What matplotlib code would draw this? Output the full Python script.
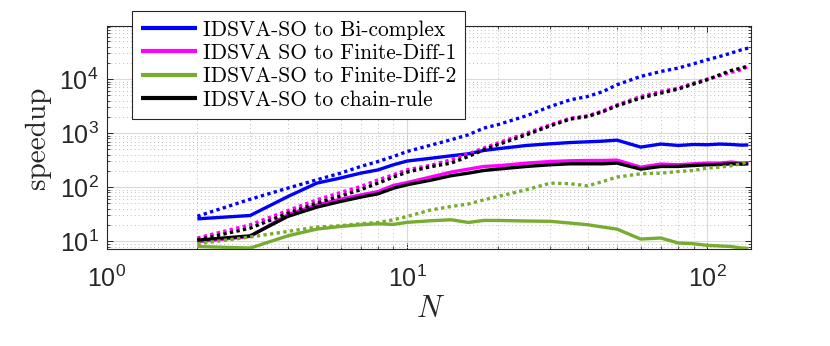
import matplotlib
matplotlib.use('Agg')
import matplotlib.pyplot as plt
from matplotlib.ticker import LogLocator, NullFormatter

plt.rcParams['font.family'] = ['Liberation Sans', 'DejaVu Sans']
plt.rcParams['mathtext.fontset'] = 'custom'
plt.rcParams['mathtext.rm'] = 'Liberation Sans'
plt.rcParams['mathtext.it'] = 'Liberation Sans:italic'
plt.rcParams['mathtext.bf'] = 'Liberation Sans:bold'

# ---------------- data ----------------
N = [2, 3, 4, 5, 6, 7, 8, 9, 10, 12, 14, 16, 18, 20, 25, 30, 35, 40, 45, 50,
     60, 70, 80, 90, 100, 110, 120, 130, 137]

bicomplex_solid = [26, 30, 67, 119, 148, 182, 209, 260, 305, 343, 381, 415, 478, 514,
                   592, 635, 671, 691, 712, 742, 552, 628, 592, 617, 610, 628, 617, 600, 605]
fd1_solid = [9.8, 12.3, 31, 47, 60, 72, 83, 108, 122, 155, 190, 216, 242, 249,
             279, 299, 308, 312, 312, 317, 235, 268, 260, 271, 279, 279, 292, 279, 285]
fd2_solid = [8.0, 7.5, 12.6, 16.8, 18.8, 20.2, 21.1, 20.5, 22.4, 24, 25, 22.3, 24.3, 24.3,
             23.7, 23.4, 21.7, 20.2, 18.3, 16.8, 11, 11.5, 9.3, 9.0, 8.4, 8.2, 8.0, 7.5, 7.4]
chain_solid = [10.5, 12.6, 28.8, 42.8, 54.5, 65.6, 75.5, 96, 111, 135, 163, 182, 204, 216,
               242, 260, 271, 271, 271, 279, 216, 242, 242, 252, 260, 263, 271, 267, 270]

bicomplex_dot = [29, 60, 96, 137, 182, 242, 299, 370, 458, 600, 754, 933, 1240, 1428,
                 2096, 3113, 4140, 4765, 5900, 7840, 11170, 13810, 15960, 19180, 22750,
                 26200, 30200, 34800, 37400]
fd1_dot = [11.5, 20.2, 37, 58.5, 80, 103, 137, 170, 210, 255, 321, 415, 530, 655,
           1003, 1428, 1897, 2096, 2590, 3340, 4765, 5900, 6800, 8430, 10000, 11500,
           13250, 14850, 17100]
fd2_dot = [9.0, 12, 15.2, 18.3, 19.4, 21.1, 22.3, 25, 28.8, 38, 44, 49, 58.5, 67,
           90, 119, 116, 106, 128, 154, 177, 182, 195, 204, 226, 235, 249, 271, 299]
chain_dot = [10.6, 17.5, 33, 50.8, 69, 90, 119, 154, 190, 240, 279, 370, 492, 609,
             933, 1369, 1820, 2030, 2510, 3200, 4450, 5500, 6530, 8070, 9710, 12000,
             14400, 15970, 17600]

labels = ['IDSVA-SO to Bi-complex', 'IDSVA SO to Finite-Diff-1',
          'IDSVA-SO to Finite-Diff-2', 'IDSVA-SO to chain-rule']
colors = ['#0000ff', '#ff00ff', '#77ac30', '#000000']

# ---------------- figure ----------------
fig = plt.figure(figsize=(8.30, 3.46), dpi=100)
ax = fig.add_axes([107 / 830, 1 - 249 / 346, (750.7 - 107) / 830, (249 - 25.7) / 346])

lw = 2.4
solids = [bicomplex_solid, fd1_solid, fd2_solid, chain_solid]
dots = [bicomplex_dot, fd1_dot, fd2_dot, chain_dot]
handles = []
for ys, c, lab in zip(solids, colors, labels):
    h, = ax.plot(N, ys, color=c, lw=lw, label=lab, solid_capstyle='butt', zorder=3)
    handles.append(h)
for ys, c in zip(dots, colors):
    ax.plot(N, ys, color=c, lw=lw, linestyle=(0, (1, 1)), dash_capstyle='butt', zorder=3)

ax.set_xscale('log')
ax.set_yscale('log')
ax.set_xlim(1, 139.5)
ax.set_ylim(7.2, 9.7e4)

ax.xaxis.set_major_locator(LogLocator(base=10, numticks=10))
ax.xaxis.set_minor_locator(LogLocator(base=10, subs=range(2, 10), numticks=20))
ax.xaxis.set_minor_formatter(NullFormatter())
ax.yaxis.set_major_locator(LogLocator(base=10, numticks=10))
ax.yaxis.set_minor_locator(LogLocator(base=10, subs=range(2, 10), numticks=20))
ax.yaxis.set_minor_formatter(NullFormatter())

ax.grid(True, which='major', color='#d9d9d9', lw=0.8, linestyle='-', zorder=0)
ax.grid(True, which='minor', color='#bdbdbd', lw=0.7, linestyle=(0, (1, 3)), zorder=0)
ax.set_axisbelow(True)

axc = '#262626'
for s in ax.spines.values():
    s.set_color(axc)
    s.set_linewidth(0.8)
ax.tick_params(which='both', direction='in', top=True, right=True, colors=axc)
ax.tick_params(which='major', length=4, width=0.7)
ax.tick_params(which='minor', length=2.2, width=0.6)
ax.tick_params(axis='x', which='major', labelsize=18, pad=12)
ax.tick_params(axis='y', which='major', labelsize=18, pad=6)

ax.set_xlabel('N', family='cmmi10', fontsize=22, color=axc, labelpad=2)
ax.set_ylabel('speedup', family='cmr10', fontsize=21, color=axc, labelpad=6)

leg = fig.legend(handles=handles, labels=labels, loc='upper left',
                 bbox_to_anchor=(132 / 830, 1 - 11 / 346), bbox_transform=fig.transFigure,
                 borderaxespad=0, prop={'family': 'cmr10', 'size': 15.4},
                 frameon=True, fancybox=False, edgecolor=axc, framealpha=1,
                 handlelength=2.6, handletextpad=0.3, labelspacing=0.18,
                 borderpad=0.42)
leg.get_frame().set_linewidth(0.8)
for line in leg.get_lines():
    line.set_linewidth(3)

fig.savefig('out.png', dpi=100)
